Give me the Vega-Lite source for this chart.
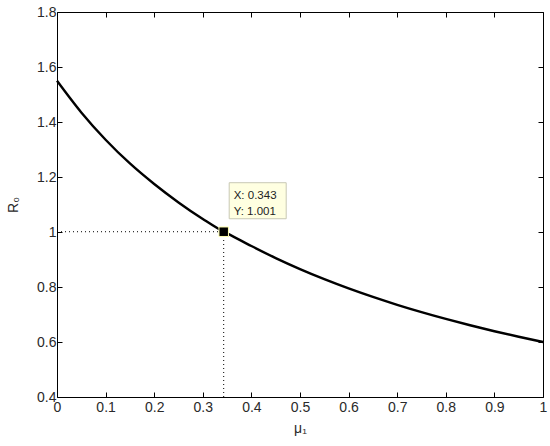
{
  "$schema": "https://vega.github.io/schema/vega-lite/v6.json",
  "width": 486,
  "height": 385,
  "autosize": {"type": "none"},
  "padding": {"left": 57, "top": 12, "right": 7, "bottom": 49},
  "background": "white",
  "config": {
    "view": {"stroke": null},
    "font": "Liberation Sans",
    "axis": {
      "grid": false,
      "domainColor": "black",
      "tickColor": "black",
      "labelColor": "#2a2a2a",
      "titleColor": "#2a2a2a",
      "labelFont": "Liberation Sans",
      "titleFont": "Liberation Sans",
      "labelFontSize": 14,
      "titleFontSize": 14,
      "titleFontWeight": "normal",
      "tickSize": -5,
      "domainWidth": 1,
      "tickWidth": 1
    }
  },
  "datasets": {
    "curve": [
      {"mu": 0.0, "R0": 1.55},
      {"mu": 0.05, "R0": 1.4349},
      {"mu": 0.1, "R0": 1.3356},
      {"mu": 0.15, "R0": 1.2492},
      {"mu": 0.2, "R0": 1.1745},
      {"mu": 0.25, "R0": 1.1075},
      {"mu": 0.3, "R0": 1.0472},
      {"mu": 0.343, "R0": 1.001},
      {"mu": 0.35, "R0": 0.995},
      {"mu": 0.4, "R0": 0.949},
      {"mu": 0.45, "R0": 0.9051},
      {"mu": 0.5, "R0": 0.8652},
      {"mu": 0.55, "R0": 0.8285},
      {"mu": 0.6, "R0": 0.7949},
      {"mu": 0.65, "R0": 0.7639},
      {"mu": 0.7, "R0": 0.7352},
      {"mu": 0.75, "R0": 0.7086},
      {"mu": 0.8, "R0": 0.6839},
      {"mu": 0.85, "R0": 0.6608},
      {"mu": 0.9, "R0": 0.6392},
      {"mu": 0.95, "R0": 0.619},
      {"mu": 1.0, "R0": 0.6}
    ],
    "tip": [
      {"mu": 0.343, "R0": 1.001, "mu0": 0, "R00": 0.4, "label": "X: 0.343\nY: 1.001"}
    ]
  },
  "layer": [
    {
      "data": {"name": "curve"},
      "mark": {"type": "line", "color": "black", "strokeWidth": 2.4, "interpolate": "monotone"},
      "encoding": {
        "x": {
          "field": "mu", "type": "quantitative",
          "scale": {"domain": [0, 1], "nice": false, "zero": false},
          "axis": {"orient": "bottom", "values": [0, 0.1, 0.2, 0.3, 0.4, 0.5, 0.6, 0.7, 0.8, 0.9, 1], "format": "~g", "title": "μ₁", "labelPadding": 8, "titlePadding": 7, "labelFlush": false}
        },
        "y": {
          "field": "R0", "type": "quantitative",
          "scale": {"domain": [0.4, 1.8], "nice": false, "zero": false},
          "axis": {"orient": "left", "values": [0.4, 0.6, 0.8, 1, 1.2, 1.4, 1.6, 1.8], "format": "~g", "title": "R₀", "labelPadding": 6, "titlePadding": 16, "labelFlush": false}
        }
      }
    },
    {
      "data": {"name": "curve"},
      "mark": {"type": "line", "opacity": 0},
      "encoding": {
        "x": {
          "field": "mu", "type": "quantitative",
          "axis": {"orient": "top", "values": [0, 0.1, 0.2, 0.3, 0.4, 0.5, 0.6, 0.7, 0.8, 0.9, 1], "labels": false, "title": null}
        },
        "y": {
          "field": "R0", "type": "quantitative",
          "axis": {"orient": "right", "values": [0.4, 0.6, 0.8, 1, 1.2, 1.4, 1.6, 1.8], "labels": false, "title": null}
        }
      }
    },
    {
      "data": {"name": "tip"},
      "mark": {"type": "rule", "color": "black", "strokeWidth": 1, "strokeDash": [1, 3]},
      "encoding": {
        "x": {"field": "mu0", "type": "quantitative", "axis": null},
        "x2": {"field": "mu"},
        "y": {"field": "R0", "type": "quantitative", "axis": null}
      }
    },
    {
      "data": {"name": "tip"},
      "mark": {"type": "rule", "color": "black", "strokeWidth": 1, "strokeDash": [1, 3]},
      "encoding": {
        "x": {"field": "mu", "type": "quantitative", "axis": null},
        "y": {"field": "R00", "type": "quantitative", "axis": null},
        "y2": {"field": "R0"}
      }
    },
    {
      "data": {"name": "tip"},
      "mark": {
        "type": "point",
        "shape": "M-1,-0.632L1,-0.632L1,0.632L-1,0.632Z",
        "size": 3249,
        "filled": true,
        "fill": "#ffffe1",
        "fillOpacity": 1,
        "stroke": "#c8c8b4",
        "strokeWidth": 1,
        "opacity": 1,
        "xOffset": 34,
        "yOffset": -31
      },
      "encoding": {
        "x": {"field": "mu", "type": "quantitative", "axis": null},
        "y": {"field": "R0", "type": "quantitative", "axis": null}
      }
    },
    {
      "data": {"name": "tip"},
      "mark": {
        "type": "text",
        "align": "left",
        "baseline": "alphabetic",
        "lineBreak": "\n",
        "lineHeight": 16,
        "font": "Liberation Sans",
        "fontSize": 11.5,
        "color": "#222222",
        "dx": 10,
        "dy": -33
      },
      "encoding": {
        "x": {"field": "mu", "type": "quantitative", "axis": null},
        "y": {"field": "R0", "type": "quantitative", "axis": null},
        "text": {"field": "label"}
      }
    },
    {
      "data": {"name": "tip"},
      "mark": {
        "type": "point",
        "shape": "square",
        "size": 90,
        "filled": true,
        "fill": "black",
        "stroke": "#ffffb0",
        "strokeWidth": 1,
        "opacity": 1
      },
      "encoding": {
        "x": {"field": "mu", "type": "quantitative", "axis": null},
        "y": {"field": "R0", "type": "quantitative", "axis": null}
      }
    }
  ],
  "resolve": {"axis": {"x": "independent", "y": "independent"}}
}
